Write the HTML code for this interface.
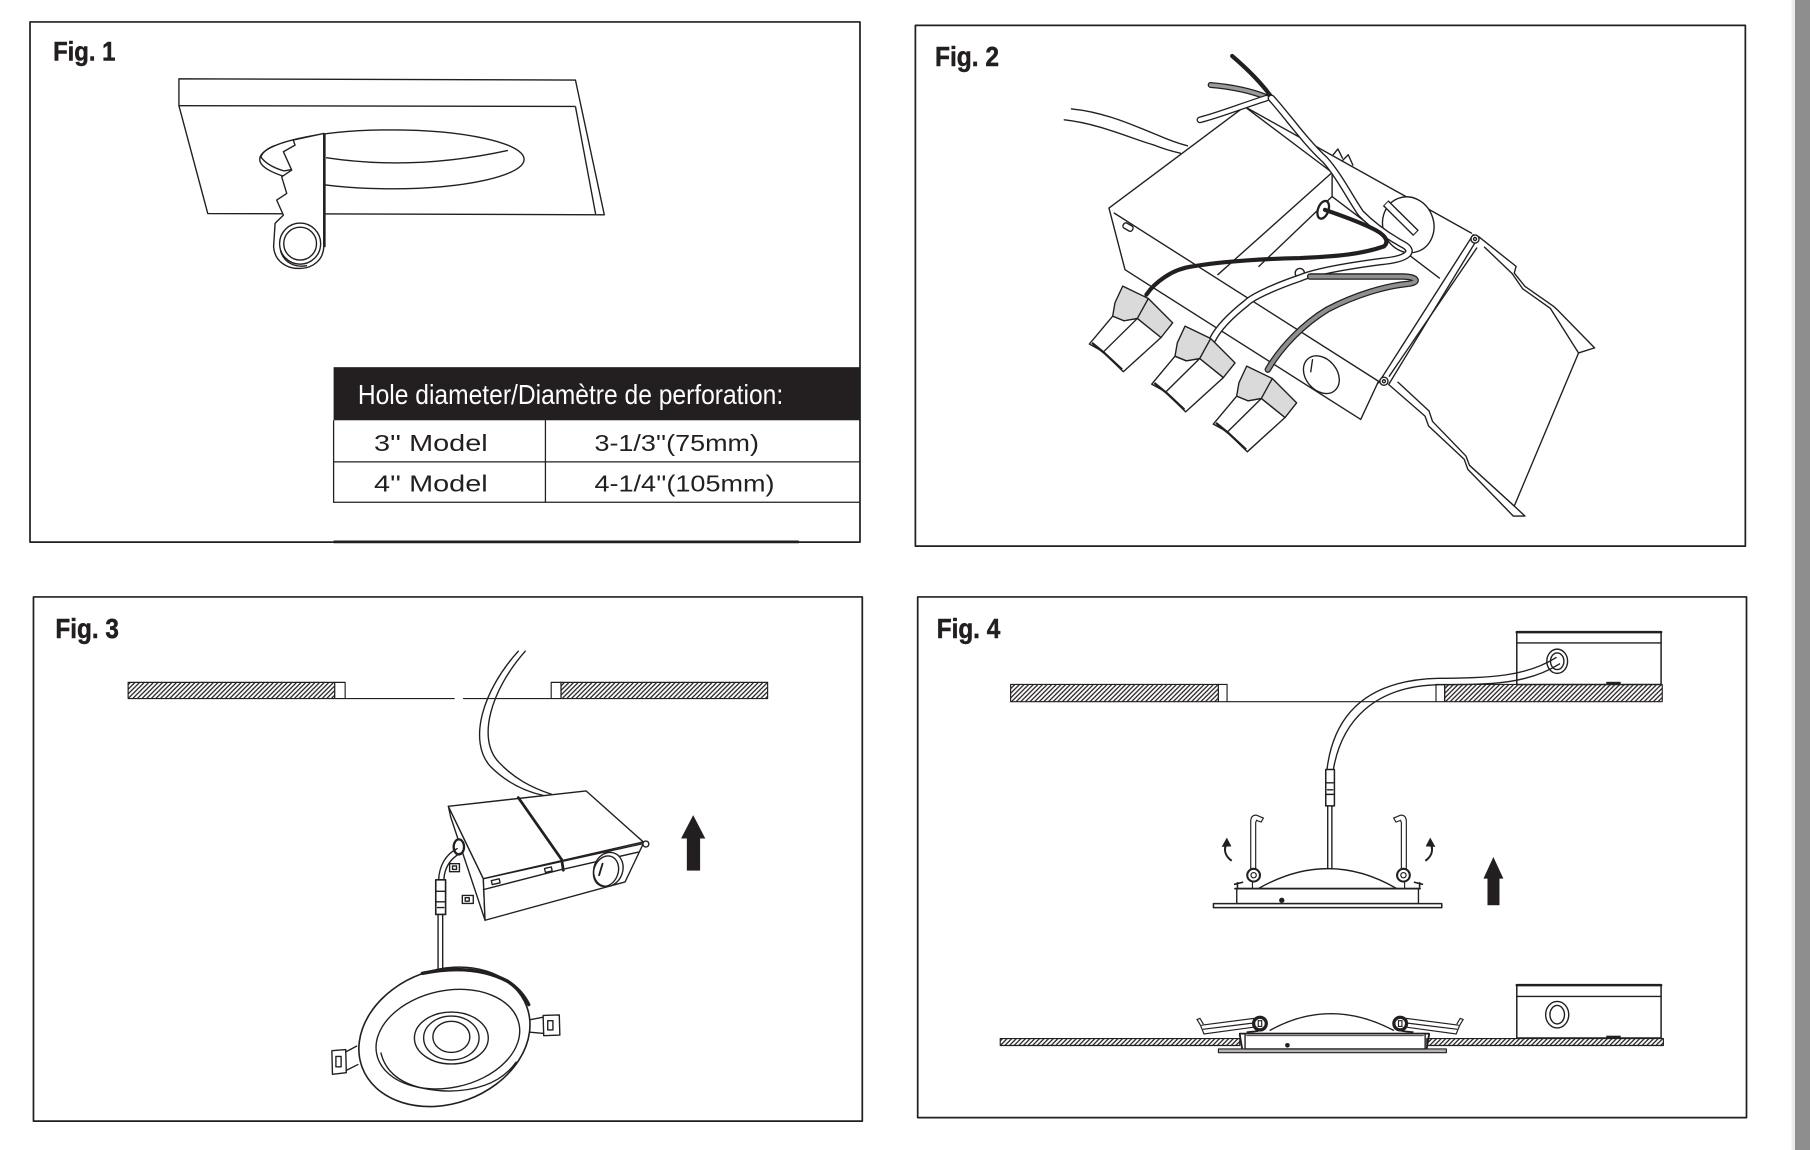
<!DOCTYPE html>
<html><head><meta charset="utf-8"><style>
html,body{margin:0;padding:0;background:#fff;}
svg{display:block}
.t{font-family:"Liberation Sans Narrow","Liberation Sans",Arial,sans-serif;font-weight:bold;fill:#231f20;stroke:#231f20;stroke-width:0.45}
.r{font-family:"Liberation Sans Narrow","Liberation Sans",Arial,sans-serif;font-weight:normal}
.s{font-family:"Liberation Sans",Arial,sans-serif;font-weight:normal;fill:#231f20}
</style></head><body>
<svg width="1810" height="1150" viewBox="0 0 1568 996" preserveAspectRatio="none" xmlns="http://www.w3.org/2000/svg" xmlns:xlink="http://www.w3.org/1999/xlink">
<defs>
<pattern id="h" patternUnits="userSpaceOnUse" width="4" height="4">
<path d="M0,4 L4,0 M-1,1 L1,-1 M3,5 L5,3" stroke="#231f20" stroke-width="1.1"/>
</pattern>
<g id="cn" stroke="#231f20" stroke-width="1.2" stroke-linejoin="round">
<polygon points="963.9,273.8 943.7,298 955.8,304.7 973.1,322 1005.8,292.3 985.3,275.8 973.7,277.8" fill="#fff"/>
<polyline points="985.3,275.8 956,304.7" fill="none"/>
<polyline points="946,297 957,306 972,320" fill="none" stroke-width="2"/>
<polygon points="972.6,247.8 994.8,258.5 1015.9,279.6 1005.8,292.3 985.3,275.8 973.7,277.8 963.9,273.8 965.9,262.2" fill="#d9dad9"/>
<line x1="994.8" y1="258.5" x2="985.3" y2="275.8"/>
</g>
<g id="spr" fill="#fff" stroke="#231f20" stroke-width="1">
<path d="M1083.5,758 L1083.5,711 Q1084,705.5 1088.5,706 L1094.5,708.5 L1092.5,712 L1088.5,710.5 L1087.8,712.5 L1087.8,758"/>
<circle cx="1086" cy="758" r="5.5" stroke-width="1.8"/>
<circle cx="1086" cy="758" r="2.3"/>
<line x1="1085" y1="763" x2="1085" y2="770"/>
<path d="M1069,766 L1077,764 M1072,764 L1072,769" fill="none" stroke-width="1.4"/>
<path d="M1067,745.5 C1062,742 1060,737 1062,731.5" fill="none" stroke-width="1.8"/>
<polygon points="1058.3,733.5 1062.8,725.5 1066.8,733" fill="#231f20" stroke="none"/>
</g>
<g id="lsp" stroke="#231f20" stroke-width="1">
<polygon points="1040,888 1086,882 1087,889.5 1043,895.5" fill="#fff"/>
<line x1="1042" y1="891.5" x2="1086" y2="886"/>
<path d="M1040,888 L1037,883 L1039.5,882 L1042.5,887" fill="#fff"/>
<circle cx="1091.5" cy="886.5" r="5.5" fill="#fff" stroke-width="2.8"/>
<rect x="1090" y="884" width="3" height="5" fill="#fff"/>
<line x1="1080" y1="894" x2="1090" y2="893" stroke-width="1.5"/>
</g>
</defs>

<rect x="0" y="0" width="1568" height="996" fill="#fff"/>
<rect x="1552" y="0" width="3" height="996" fill="#ececec"/>
<rect x="1555" y="0" width="13" height="996" fill="#8e8e8e"/>

<!-- ================= FIG 1 ================= -->
<g fill="none" stroke="#231f20" stroke-width="1.2" stroke-linejoin="round">
<rect x="26" y="19" width="719" height="450.5" stroke-width="1.5"/>
<line x1="289" y1="469.3" x2="692" y2="469.3" stroke-width="2.4"/>
<path d="M155,68.3 L498.5,69.3 L523.5,186 L180,185 L155,91.5 Z" fill="#fff"/>
<line x1="155" y1="91.5" x2="498.5" y2="92.2"/>
<line x1="498.5" y1="92.2" x2="516" y2="185.5"/>
<ellipse cx="339.5" cy="138" rx="114.5" ry="25.5" fill="#fff"/>
<path d="M282.5,136.6 Q358.75,148.1 440,130.3"/>
<path d="M238,126 Q228,130 226,136 Q232,144 246,148 L252,147" />
<path d="M254,121.3 L280.5,115.6 L280.5,214 C280,225 271,232.5 260,232.5 C248,233 238,226 237,214 L238.3,193.5 L245.5,186.3 L239.7,173.3 L248.4,167.5 L244,153.1 L252.7,147.3 L245.5,131.4 L255.6,125.7 Z" fill="#fff"/>
<line x1="281" y1="115.6" x2="281" y2="214" stroke-width="2.2"/>
<circle cx="260" cy="211" r="17.8"/>
<circle cx="260" cy="211" r="14.2"/>
<path d="M243,217 C246,228 256,232 266,230" />
</g>
<text x="46" y="52.5" font-size="23.5" textLength="54" lengthAdjust="spacingAndGlyphs" class="t">Fig. 1</text>

<rect x="289" y="318" width="456" height="46" fill="#231f20"/>
<text x="310" y="349.8" font-size="24" textLength="368.5" lengthAdjust="spacingAndGlyphs" class="r" fill="#fff">Hole diameter/Diamètre de perforation:</text>
<g stroke="#231f20" stroke-width="1.1" fill="none">
<path d="M289,364 V435.5 M472.5,364 V435.5 M289,400 H745 M289,435 H745"/>
</g>
<text x="324" y="390.5" font-size="20" textLength="98.5" lengthAdjust="spacingAndGlyphs" class="s">3'' Model</text>
<text x="515" y="390.5" font-size="20" textLength="142.5" lengthAdjust="spacingAndGlyphs" class="s">3-1/3''(75mm)</text>
<text x="324" y="425.5" font-size="20" textLength="98.5" lengthAdjust="spacingAndGlyphs" class="s">4'' Model</text>
<text x="515" y="425.5" font-size="20" textLength="156" lengthAdjust="spacingAndGlyphs" class="s">4-1/4''(105mm)</text>

<!-- ================= FIG 2 ================= -->
<g fill="none" stroke="#231f20" stroke-width="1.2" stroke-linejoin="round" stroke-linecap="round">
<rect x="793" y="22" width="719" height="451" stroke-width="1.5"/>
<path d="M928.2,94.3 C958,97 985,110 1002.4,116.8 C1012,121 1020,124 1028.7,126.3"/>
<path d="M922,103.8 C952,107 980,120 999.3,125.5 C1008,129 1015,131 1022.5,132.7"/>
<polygon points="1281,205 1313.4,230.7 1311.8,236.5 1321,248 1345.8,265.3 1349,268.2 1381.4,301.3 1367.5,305.7 1311.8,438.3 1321,446.9 1311,447 1271.6,406.5 1268.5,397.9 1237.6,369 1234.5,360.4 1203,333" fill="#fff"/>
<path d="M1286,214 L1310,237 L1319,250 L1343,267 L1367.5,305.7"/>
<path d="M1211,331 L1238,356 L1241,365 L1270,395 L1273,403 L1311.8,438.3"/>
<polygon points="960.7,180.2 1078.2,92.3 1274.7,201.9 1194.2,330.2 1178.8,363.3 974.6,233.6" fill="#fff" stroke="none"/>
<path d="M960.7,180.2 L1078.2,92.3 L1274.7,201.9"/>
<path d="M960.7,180.2 L974.6,233.6 L1178.8,363.3 L1194.2,330.2"/>
<path d="M965.3,184.6 L1194.2,330.2"/>
<path d="M1078.2,92.3 L1154,149.4 L1154,170.2 L1246.9,240.8"/>
<path d="M1154,149.4 L1055,237.9"/>
<path d="M1154,170.2 L1090.6,230.7"/>
<path d="M1155,134 L1159,129 L1163,137 M1163,139 L1168,134 L1172,143"/>
<rect x="973" y="194" width="9" height="5" rx="2" transform="rotate(30 977 196)"/>
<line x1="1276.2" y1="203.3" x2="1194.2" y2="331.6"/>
<line x1="1279.3" y1="214.8" x2="1203.5" y2="325.8"/>
<circle cx="1277.8" cy="207" r="3.5" fill="#fff"/>
<circle cx="1277.8" cy="207" r="1.3"/>
<circle cx="1198.9" cy="330.2" r="3.5" fill="#fff"/>
<circle cx="1198.9" cy="330.2" r="1.3"/>
<ellipse cx="1220" cy="194.7" rx="22" ry="24.5" transform="rotate(-20 1220 194.7)" fill="#fff"/>
<path d="M1200.4,175.9 L1226.7,201.9" stroke-width="7" stroke-linecap="butt"/>
<path d="M1201,176.5 L1226,201.3" stroke="#fff" stroke-width="4.6" stroke-linecap="butt"/>
<ellipse cx="1144.7" cy="324.5" rx="18" ry="13.5" transform="rotate(50 1144.7 324.5)" fill="#fff"/>
<line x1="1137" y1="311.5" x2="1135.5" y2="322"/>
<ellipse cx="1146.3" cy="181.7" rx="4.5" ry="8" transform="rotate(20 1146.3 181.7)" fill="#fff" stroke-width="2"/>
<circle cx="1126" cy="236.5" r="4" fill="#fff"/>
<path d="M1067.4,48.5 C1075,55 1090,68 1101.4,84" stroke-width="3.6"/>
<path d="M1048.8,73.6 C1065,75 1082,78 1097,84" stroke-width="5.2"/>
<path d="M1048.8,73.6 C1065,75 1082,78 1097,84" stroke="#9b9b9b" stroke-width="3"/>
<path d="M1039.5,103.8 C1055,100 1075,92 1097,85" stroke-width="5.8"/>
<path d="M1039.5,103.8 C1055,100 1075,92 1097,85" stroke="#fff" stroke-width="3.6"/>
<path d="M1101.4,85.1 C1115,100 1130,122 1147.8,138.4 C1160,152 1170,172 1178.8,184.6 C1192,198 1205,206 1215.9,212 C1225,217 1222,224 1197.3,226.4 C1170,230 1140,235 1126.2,240.8 C1105,248 1085,257 1079.8,262.4 C1065,274 1055,285 1050.4,294.1" stroke-width="6.6"/>
<path d="M1101.4,85.1 C1115,100 1130,122 1147.8,138.4 C1160,152 1170,172 1178.8,184.6 C1192,198 1205,206 1215.9,212 C1225,217 1222,224 1197.3,226.4 C1170,230 1140,235 1126.2,240.8 C1105,248 1085,257 1079.8,262.4 C1065,274 1055,285 1050.4,294.1" stroke="#fff" stroke-width="4.2"/>
<path d="M993.1,255.2 C1000,245 1015,233 1033.4,230.7 C1060,226 1100,224 1126.2,223.5 C1160,222 1180,220 1198.9,213.4 C1204,209 1200,203 1188.1,197.5 C1175,191 1160,186 1147.8,181.7" stroke-width="3.6"/>
<path d="M1098.3,320.1 C1110,300 1130,280 1150,268 C1175,255 1200,248 1218,246 C1231,245 1228,239.5 1215,239.5 L1135,239.5" stroke-width="5.6"/>
<path d="M1098.3,320.1 C1110,300 1130,280 1150,268 C1175,255 1200,248 1218,246 C1231,245 1228,239.5 1215,239.5 L1135,239.5" stroke="#8f8f8f" stroke-width="3.4"/>
</g>
<use xlink:href="#cn"/>
<use xlink:href="#cn" transform="translate(54,34.7)"/>
<use xlink:href="#cn" transform="translate(107.4,69.3)"/>
<text x="810" y="57.2" font-size="24" textLength="55.5" lengthAdjust="spacingAndGlyphs" class="t">Fig. 2</text>

<!-- ================= FIG 3 ================= -->
<g fill="none" stroke="#231f20" stroke-width="1.2" stroke-linejoin="round" stroke-linecap="round">
<rect x="29" y="517" width="718" height="454" stroke-width="1.5"/>
<rect x="111" y="591" width="179" height="14" fill="url(#h)" stroke-width="1"/>
<rect x="290" y="591" width="9" height="14" fill="#fff" stroke-width="1"/>
<line x1="299" y1="605" x2="393.5" y2="605" stroke-width="1"/>
<line x1="401.5" y1="605" x2="477.5" y2="605" stroke-width="1"/>
<rect x="477.5" y="591" width="8.5" height="14" fill="#fff" stroke-width="1"/>
<rect x="486" y="591" width="179" height="14" fill="url(#h)" stroke-width="1"/>
<path d="M455,564 C425,598 413,640 432,660 C445,674 460,682 478,688"/>
<path d="M449,564 C418,598 405,642 425,664 C438,677 453,685 471,689"/>
<polygon points="388.4,698.3 390.4,707.5 420.2,797 418.7,761" fill="#fff"/>
<polygon points="418.7,761 557.3,730.6 541.5,763.8 420.2,797" fill="#fff"/>
<polygon points="388.4,698.3 507.7,685 557.3,729.2 418.7,761" fill="#fff"/>
<path d="M449,690.8 L486.6,744.5 L488,753.7" stroke-width="2.4"/>
<path d="M418.7,770.5 L486.6,753 M489.5,752.5 L553,738"/>
<circle cx="559.5" cy="731" r="2.6" fill="#fff"/>
<rect x="426" y="762" width="7" height="3.5" transform="rotate(-13 429 764)"/>
<rect x="472" y="751.5" width="6" height="3.5" transform="rotate(-13 475 753)"/>
<ellipse cx="527" cy="753" rx="12.5" ry="15" transform="rotate(20 527 753)" fill="#fff"/>
<ellipse cx="525" cy="754.5" rx="10.5" ry="13.5" transform="rotate(20 525 754.5)"/>
<line x1="519" y1="758" x2="522" y2="748" stroke-width="1.6"/>
<rect x="389.5" y="748" width="8.5" height="7" fill="#fff"/>
<rect x="392" y="750" width="3.5" height="3"/>
<rect x="400.5" y="775.5" width="9.5" height="7" fill="#fff"/>
<rect x="403" y="777.5" width="3.5" height="3"/>
<ellipse cx="397.5" cy="733.5" rx="4.5" ry="6.5" fill="#fff" stroke-width="2"/>
<path d="M396,735 C386,740 380.5,750 380,762"/>
<path d="M398.5,739 C390,744 385,752 384.5,762"/>
<rect x="377.5" y="762" width="8.5" height="30" fill="#fff" stroke-width="1.4"/>
<path d="M377.5,772 H386 M377.5,781 H386 M379,786 H384.5"/>
<path d="M379.5,792 L379.5,842 M383.5,792 L383.5,842"/>
<polygon points="287.5,910 299.5,909 300,929 288,930.5" fill="#fff"/>
<rect x="291" y="915" width="4.5" height="9"/>
<path d="M299.5,911 L309,906 M300,927 L310,922"/>
<polygon points="470.5,879.5 484.5,879 485,896.5 471,897" fill="#fff"/>
<rect x="474.5" y="884" width="4.5" height="8"/>
<path d="M470.5,881 L460,883 M471,895 L459,894"/>
<ellipse cx="385" cy="898" rx="76" ry="58" transform="rotate(-20 385 898)" fill="#fff" stroke-width="1.4"/>
<path d="M366,843 Q410,834 440,850 Q452,858 458,870" stroke-width="3"/>
<ellipse cx="388" cy="900" rx="63" ry="42" transform="rotate(-12 388 900)"/>
<path d="M330,912 Q338,944 390,945 Q430,944 447,920"/>
<ellipse cx="391" cy="899" rx="32" ry="22.5"/>
<ellipse cx="391" cy="899" rx="24" ry="19"/>
<ellipse cx="391" cy="898" rx="16" ry="13.5"/>
</g>
<polygon points="590,726.2 600.5,706 611,726.2" fill="#231f20"/>
<rect x="595" y="726" width="11.5" height="28" fill="#231f20"/>
<text x="48" y="552.7" font-size="24" textLength="55" lengthAdjust="spacingAndGlyphs" class="t">Fig. 3</text>

<!-- ================= FIG 4 ================= -->
<g fill="none" stroke="#231f20" stroke-width="1.2" stroke-linejoin="round" stroke-linecap="round">
<rect x="795" y="517" width="718" height="451" stroke-width="1.5"/>
<rect x="875.5" y="592.8" width="180" height="14.9" fill="url(#h)" stroke-width="1"/>
<rect x="1055.5" y="592.8" width="7.5" height="14.9" fill="#fff" stroke-width="1"/>
<line x1="1063" y1="607.7" x2="1244" y2="607.7" stroke-width="1"/>
<rect x="1244" y="592.8" width="7.5" height="14.9" fill="#fff" stroke-width="1"/>
<rect x="1251.5" y="592.8" width="188.5" height="14.9" fill="url(#h)" stroke-width="1"/>
<rect x="1314" y="547.3" width="125" height="45.5" fill="#fff" stroke-width="1.3"/>
<line x1="1314" y1="547.5" x2="1439" y2="547.5" stroke-width="2.2"/>
<line x1="1314" y1="556.8" x2="1439" y2="556.8"/>
<rect x="1391.5" y="590.5" width="12.5" height="2.2" fill="#231f20" stroke="none"/>
<ellipse cx="1349" cy="572.7" rx="9" ry="10.5" fill="#fff"/>
<ellipse cx="1349" cy="572.7" rx="5.8" ry="7.2"/>
<path d="M1348,569.5 C1322,586 1292,587 1246,587.5 C1183,589 1155,620 1149.5,667"/>
<path d="M1351,575 C1324,592 1294,593 1247,593 C1190,594 1162,625 1155,667"/>
<rect x="1148.5" y="666.5" width="7.5" height="31.5" fill="#fff" stroke-width="1.3"/>
<path d="M1148.5,678 H1156 M1148.5,688 H1156 M1150,684 H1154.5"/>
<path d="M1150.2,698 L1150.2,752.5 M1153.8,698 L1153.8,752.5"/>
<path d="M1090.1,769.6 Q1150.8,735 1210,769.6"/>
<rect x="1071.4" y="769.6" width="157.4" height="13" fill="#fff"/>
<line x1="1069.9" y1="769.6" x2="1230.2" y2="769.6" stroke-width="1.5"/>
<rect x="1051.2" y="782.6" width="197.8" height="3.5" fill="#fff" stroke-width="1.3"/>
<circle cx="1110.4" cy="779.7" r="2.3" fill="#231f20" stroke="none"/>
</g>
<use xlink:href="#spr"/>
<use xlink:href="#spr" transform="translate(2301.8,0) scale(-1,1)"/>
<polygon points="1285.1,761 1293.7,742.2 1302.4,761" fill="#231f20"/>
<rect x="1288.6" y="760.5" width="10.4" height="23.5" fill="#231f20"/>
<g fill="none" stroke="#231f20" stroke-width="1.2" stroke-linejoin="round" stroke-linecap="round">
<rect x="866.5" y="899.5" width="207.5" height="6" fill="url(#h)" stroke-width="1"/>
<rect x="1236" y="899.5" width="205" height="6" fill="url(#h)" stroke-width="1"/>
<rect x="1055.5" y="908.5" width="197.5" height="3.2" fill="#b4b4b4" stroke-width="1"/>
<rect x="1078.6" y="895.2" width="156" height="13.3" fill="#fff"/>
<line x1="1074" y1="895.2" x2="1238" y2="895.2" stroke-width="1.5"/>
<line x1="1080" y1="897" x2="1233" y2="897" stroke-width="0.8"/>
<path d="M1100.3,892.3 Q1152.3,863.5 1207.1,892.3"/>
<circle cx="1115.3" cy="905.3" r="2" fill="#231f20" stroke="none"/>
<path d="M1074,896 L1076,908 M1238,896 L1236,908" stroke-width="1.6"/>
<rect x="1314" y="853" width="125" height="46" fill="#fff" stroke-width="1.3"/>
<line x1="1314" y1="853.2" x2="1439" y2="853.2" stroke-width="2.2"/>
<line x1="1314" y1="863" x2="1439" y2="863"/>
<rect x="1391.5" y="897" width="12.5" height="2.2" fill="#231f20" stroke="none"/>
<ellipse cx="1349" cy="878.8" rx="10" ry="11.5"/>
<ellipse cx="1349" cy="878.8" rx="6.3" ry="8"/>
</g>
<use xlink:href="#lsp"/>
<use xlink:href="#lsp" transform="translate(2304.5,0) scale(-1,1)"/>
<text x="811.5" y="552.7" font-size="24" textLength="55" lengthAdjust="spacingAndGlyphs" class="t">Fig. 4</text>
</svg>
</body></html>
